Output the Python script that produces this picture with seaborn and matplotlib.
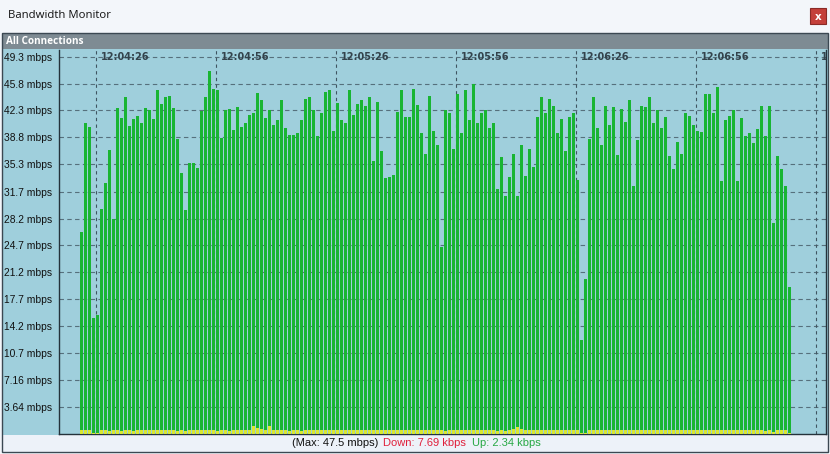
import matplotlib
matplotlib.use("Agg")
import pandas as pd
import matplotlib.pyplot as plt
import seaborn as sns
from matplotlib.patches import Rectangle
from datetime import datetime

# Data (one sample per second, mbps)
start_time = "12:04:22"
total_mbps = [
    26.5, 40.7, 40.2, 15.3, 15.6, 29.5, 32.8, 37.2, 28.1, 42.6,
    41.3, 44.1, 40.3, 41.2, 41.6, 40.6, 42.6, 42.3, 41.2, 44.9,
    43.1, 44.0, 44.2, 42.6, 38.6, 34.1, 29.3, 35.5, 35.5, 34.8,
    42.2, 44.0, 47.5, 45.1, 44.9, 38.7, 42.3, 42.5, 39.8, 42.8,
    40.2, 40.7, 41.7, 41.9, 44.6, 43.7, 41.3, 42.3, 40.4, 41.0,
    43.7, 40.0, 39.1, 39.1, 39.3, 41.0, 43.8, 44.0, 42.3, 39.0,
    42.0, 44.7, 45.0, 39.6, 43.3, 41.0, 40.6, 44.9, 41.7, 43.2,
    43.6, 42.9, 44.0, 35.7, 43.4, 37.0, 33.5, 33.6, 33.9, 42.1,
    44.9, 41.5, 41.5, 45.1, 43.0, 39.4, 36.6, 44.2, 39.6, 37.8,
    24.5, 42.4, 42.0, 37.3, 44.5, 39.3, 45.0, 41.0, 45.7, 40.7,
    42.0, 42.4, 40.0, 40.7, 32.1, 36.2, 31.2, 33.6, 36.6, 31.2,
    37.8, 33.8, 37.3, 34.9, 41.5, 44.0, 41.9, 43.8, 42.9, 39.3,
    41.2, 37.0, 41.5, 41.9, 33.2, 12.4, 20.3, 38.6, 44.0, 40.0,
    37.8, 42.9, 40.4, 42.8, 36.5, 42.5, 40.8, 43.6, 32.5, 38.5,
    42.9, 42.8, 44.0, 40.6, 42.4, 40.0, 41.5, 36.4, 34.7, 38.2,
    36.6, 41.9, 41.6, 40.4, 39.6, 39.5, 44.5, 44.4, 42.0, 45.3,
    33.1, 41.0, 41.6, 42.4, 33.1, 41.3, 38.9, 39.4, 38.0, 39.9,
    42.9, 39.0, 42.9, 27.6, 36.4, 34.7, 32.5, 19.3,
]
up_mbps = [
    0.6, 0.7, 0.6, 0.3, 0.3, 0.6, 0.6, 0.5, 0.6, 0.6,
    0.5, 0.6, 0.6, 0.5, 0.6, 0.6, 0.6, 0.7, 0.6, 0.6,
    0.6, 0.7, 0.6, 0.6, 0.5, 0.6, 0.5, 0.6, 0.6, 0.6,
    0.6, 0.7, 0.6, 0.6, 0.5, 0.6, 0.6, 0.5, 0.6, 0.6,
    0.6, 0.7, 0.7, 1.2, 0.9, 0.8, 0.7, 1.1, 0.7, 0.6,
    0.6, 0.6, 0.5, 0.6, 0.6, 0.5, 0.6, 0.6, 0.6, 0.6,
    0.6, 0.6, 0.6, 0.6, 0.6, 0.6, 0.6, 0.6, 0.6, 0.6,
    0.6, 0.6, 0.6, 0.6, 0.6, 0.6, 0.6, 0.6, 0.6, 0.6,
    0.7, 0.7, 0.6, 0.6, 0.7, 0.6, 0.6, 0.6, 0.6, 0.6,
    0.7, 0.5, 0.6, 0.6, 0.6, 0.6, 0.6, 0.6, 0.6, 0.6,
    0.6, 0.6, 0.6, 0.6, 0.5, 0.6, 0.5, 0.6, 0.8, 1.0,
    0.8, 0.6, 0.6, 0.6, 0.6, 0.6, 0.6, 0.6, 0.6, 0.6,
    0.6, 0.6, 0.6, 0.6, 0.6, 0.3, 0.3, 0.6, 0.6, 0.6,
    0.6, 0.6, 0.6, 0.6, 0.6, 0.6, 0.6, 0.6, 0.6, 0.6,
    0.6, 0.6, 0.6, 0.6, 0.6, 0.6, 0.6, 0.6, 0.6, 0.6,
    0.6, 0.6, 0.6, 0.6, 0.6, 0.6, 0.6, 0.6, 0.6, 0.6,
    0.6, 0.6, 0.6, 0.6, 0.6, 0.6, 0.6, 0.6, 0.6, 0.6,
    0.6, 0.5, 0.6, 0.4, 0.6, 0.6, 0.6, 0.3,
]
time_labels = ["12:04:26", "12:04:56", "12:05:26", "12:05:56", "12:06:26", "12:06:56", "12:07:26"]
ytick_vals = [3.64, 7.16, 10.7, 14.2, 17.7, 21.2, 24.7, 28.2, 31.7, 35.3, 38.8, 42.3, 45.8, 49.3]

GREEN = "#19b533"
YELLOW = "#d9e830"
PANEL = "#9fcfdc"
GRID = "#56707c"

df = pd.DataFrame({"sec": range(len(total_mbps)), "total": total_mbps, "up": up_mbps})

W, H = 830, 454
def fx(x):
    return x / W
def fy(y):
    return 1 - y / H

def box(x0, y0, x1, y1, z=-10, **kw):
    fig.add_artist(Rectangle((fx(x0), fy(y1)), fx(x1) - fx(x0), fy(y0) - fy(y1),
                             transform=fig.transFigure, zorder=z, **kw))

sns.set_style("white")
plt.rcParams["font.family"] = ["Liberation Sans", "DejaVu Sans"]

fig = plt.figure(figsize=(8.3, 4.54), dpi=100, facecolor="#f3f6fa")

# window chrome (behind the axes)
box(2, 33, 828, 452, facecolor=PANEL, edgecolor="none")
box(2, 33, 828, 49, facecolor="#7e8b93", edgecolor="none")
box(2, 435, 828, 452, facecolor="#edf2f9", edgecolor="none")
box(2, 33, 828, 452, z=10, facecolor="none", edgecolor="#3b4852", lw=1)
box(810, 8, 826, 24, facecolor="#c4403a", edgecolor="#8a2a26", lw=0.8)
fig.text(fx(818), fy(16.5), "x", color="white", fontsize=7.5, ha="center", va="center",
         family="DejaVu Sans", weight="bold")
fig.text(fx(8), fy(16), "Bandwidth Monitor", fontsize=8.2, ha="left", va="center",
         family="Open Sans", color="#111111")
fig.text(fx(6), fy(41.5), "All Connections", fontsize=7.2, ha="left", va="center",
         family="Open Sans", weight="bold", color="white")

# status bar
fig.text(fx(292), fy(443.5), "(Max: 47.5 mbps)", fontsize=8, ha="left", va="center", color="#111111")
fig.text(fx(383), fy(443.5), "Down: 7.69 kbps", fontsize=8, ha="left", va="center", color="#e0203c")
fig.text(fx(472), fy(443.5), "Up: 2.34 kbps", fontsize=8, ha="left", va="center", color="#27a844")

ax = fig.add_axes([fx(59), fy(434), fx(826) - fx(59), fy(49.5) - fy(434)])
ax.set_facecolor(PANEL)

sns.barplot(data=df, x="sec", y="total", color=GREEN, saturation=1, width=0.75,
            linewidth=0, errorbar=None, ax=ax, zorder=2)
sns.barplot(data=df, x="sec", y="up", color=YELLOW, saturation=1, width=0.75,
            linewidth=0, errorbar=None, ax=ax, zorder=3)

ax.set_xlim(-5.625, 186.125)
ax.set_ylim(0.12, 50.24)

# time gridlines at the left edge of the bar for that second
t0 = datetime.strptime(start_time, "%H:%M:%S")
for lab in time_labels:
    pos = (datetime.strptime(lab, "%H:%M:%S") - t0).seconds - 0.375
    ax.axvline(pos, color="#3f5561", lw=0.8, linestyle=(0, (3, 3)), zorder=1)
    ax.text(pos + 1.3, 49.25, lab, fontsize=7, weight="bold", family="DejaVu Sans",
            color="#33434c", ha="left", va="center", clip_on=True, zorder=4)

ax.set_yticks(ytick_vals)
ax.set_yticklabels([f"{v} mbps" for v in ytick_vals])
ax.yaxis.grid(True, color=GRID, lw=0.8, linestyle=(0, (4, 3)))
ax.set_axisbelow(True)
ax.set_xticks([])
ax.set_xlabel("")
ax.set_ylabel("")
ax.tick_params(axis="y", length=4, width=0.8, color="#33434c", pad=1,
               labelsize=7.4, labelcolor="#111111")

for side in ["left", "bottom", "right"]:
    ax.spines[side].set_color("#24323b")
    ax.spines[side].set_linewidth(1)
ax.spines["top"].set_visible(False)

fig.savefig("out.png", dpi=100, facecolor=fig.get_facecolor())
